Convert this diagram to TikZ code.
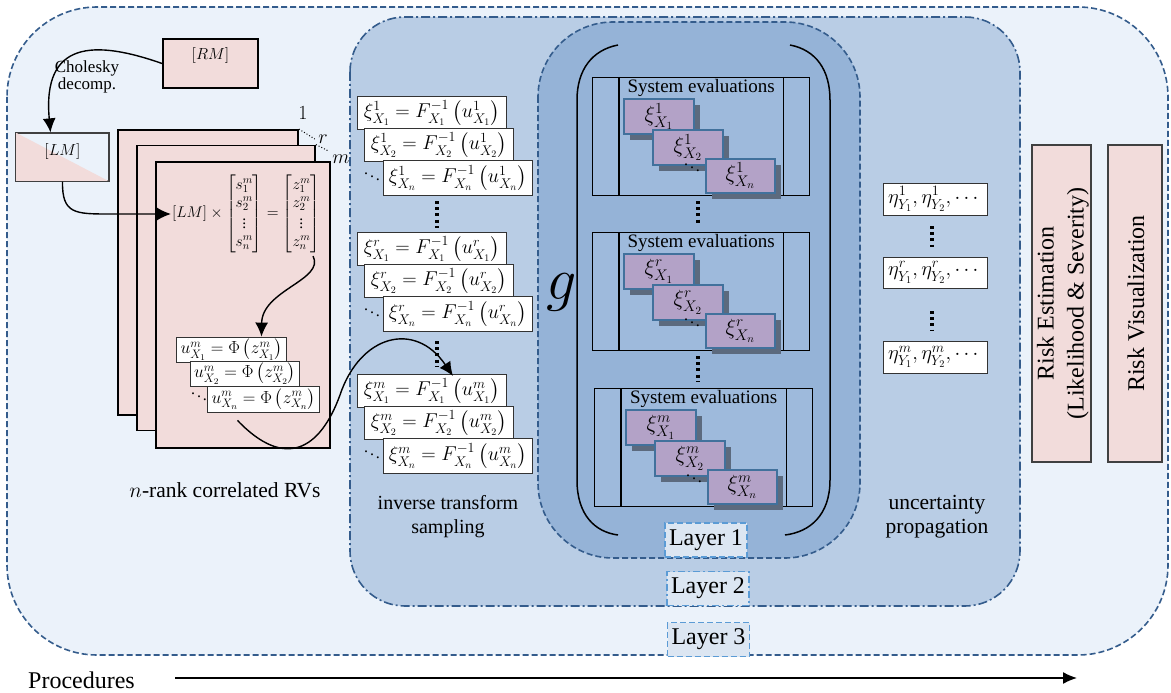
\RequirePackage{fix-cm}
\documentclass[tikz,border=0pt]{standalone}
\usepackage{amsmath}
\usepackage{fontspec}
\setmainfont{Liberation Serif}
\usetikzlibrary{arrows.meta,shadows}

\definecolor{outerfill}{RGB}{235,242,250}
\definecolor{layerdraw}{RGB}{52,92,140}
\definecolor{ltwofill}{RGB}{185,205,229}
\definecolor{lonefill}{RGB}{149,179,215}
\definecolor{pinkfill}{RGB}{242,220,219}
\definecolor{purplefill}{RGB}{179,162,199}
\definecolor{purpledraw}{RGB}{65,113,156}
\definecolor{shadowgray}{RGB}{92,106,126}
\definecolor{labelfill}{RGB}{220,230,242}
\definecolor{labeldraw}{RGB}{91,155,213}
\definecolor{sefill}{RGB}{158,186,220}

\newcommand{\fontlbl}{\fontsize{20}{24}\selectfont}
\newcommand{\fontsys}{\fontsize{19}{23}\selectfont}
\newcommand{\fontmth}{\fontsize{20}{23}\selectfont}
\newcommand{\fontsub}{\fontsize{22}{24}\selectfont}
\newcommand{\fontsml}{\fontsize{16}{19}\selectfont}
\newcommand{\fontrsk}{\fontsize{24}{30}\selectfont}
\newcommand{\fontlay}{\fontsize{24}{28}\selectfont}

\tikzset{
  arr/.style={line width=1.4pt, -{Latex[length=14pt,width=13pt]}},
  pinkbox/.style={draw=black, line width=1.8pt, fill=pinkfill, inner sep=0pt},
  whitebox/.style={draw=black!80, line width=0.9pt, fill=white, inner sep=0pt},
  subbox/.style={draw=purpledraw, line width=1.6pt, fill=purplefill, minimum width=70pt,
    minimum height=35pt, inner sep=0pt, font=\fontsub,
    drop shadow={shadow xshift=6pt, shadow yshift=-6pt, fill=shadowgray, opacity=1}},
  sebox/.style={draw=black, line width=1.3pt, fill=sefill, minimum height=118pt, inner sep=0pt},
  layerlabel/.style={draw=labeldraw, line width=1.6pt, fill=labelfill,
    minimum width=82pt, minimum height=34pt, font=\fontlay, inner sep=0pt},
  vdotline/.style={line width=3.5pt, dash pattern=on 3pt off 3.2pt},
  layerline/.style={draw=layerdraw, line width=1.6pt},
}

\begin{document}
\begin{tikzpicture}[x=1pt,y=-1pt]
\useasboundingbox (0,0) rectangle (1171,693);

% ---------- layers ----------
\draw[layerline, dash pattern=on 6pt off 3pt, fill=outerfill, rounded corners=90pt]
  (7,7) rectangle (1168,655);
\draw[layerline, dash pattern=on 9pt off 3pt on 2pt off 3pt, fill=ltwofill, rounded corners=55pt]
  (350,17) rectangle (1020,606);
\draw[layerline, dash pattern=on 6pt off 3pt, fill=lonefill, rounded corners=75pt]
  (538,22) rectangle (860,558);

\node[layerlabel, dash pattern=on 6pt off 3pt] (lab1) at (706,540) {Layer 1};
\node[layerlabel, dash pattern=on 7pt off 3pt on 2pt off 3pt] (lab2) at (708,588.5) {Layer 2};
\node[layerlabel, dash pattern=on 6pt off 3pt] (lab3) at (708.5,639.5) {Layer 3};

% ---------- procedures arrow ----------
\node[font=\fontsize{24}{28}\selectfont] (proc) at (81.5,680) {Procedures};
\coordinate (procstart) at (175,678);
\coordinate (procend) at (1077,678);
\draw[line width=1.4pt, -{Latex[length=14pt,width=12pt]}] (procstart) -- (procend);

% ---------- left: correlation ----------
\node[pinkbox, minimum width=95pt, minimum height=49pt] (rm) at (210.5,63.5) {};
\node[font=\fontsml] (rmtext) at (210.5,56) {$[RM]$};

\node[draw=black!75, line width=1.2pt, minimum width=93pt, minimum height=48pt, inner sep=0pt] (lm) at (62.5,157) {};
\fill[pinkfill] (lm.north west) -- (lm.south east) -- (lm.south west) -- cycle;
\draw[black!75, line width=1.2pt] (lm.north west) rectangle (lm.south east);
\node[font=\fontsml] (lmtext) at (62.5,151) {$[LM]$};

\draw[arr] (rm.west) .. controls (95,40) and (42,40) .. ([xshift=-12pt]lm.north);
\node[font=\fontsize{17}{19}\selectfont, align=center] (chol) at (87,77) {Cholesky\\[-2pt]decomp.};

\node[pinkbox, minimum width=180pt, minimum height=285pt] (p1) at (208,272.5) {};
\node[pinkbox, minimum width=178pt, minimum height=285pt] (p2) at (226,288) {};
\node[pinkbox, minimum width=174pt, minimum height=286pt] (p3) at (243,305) {};

\node[font=\fontlbl] (nm1) at (303,113) {$1$};
\node[font=\fontlbl] (nmr) at (323,139) {$r$};
\node[font=\fontlbl] (nmm) at (341,159) {$m$};
\draw[dotted, line width=1pt] (p1.north east) -- (nmr.west);
\draw[dotted, line width=1pt] (p2.north east) -- (nmm.north west);

\node[font=\fontsize{15.5}{18}\selectfont, inner sep=1pt] (mat) at (246,214)
  {$[LM]\times\begin{bmatrix}s^m_1\\ s^m_2\\ \vdots\\ s^m_n\end{bmatrix}
   = \begin{bmatrix}z^m_1\\ z^m_2\\ \vdots\\ z^m_n\end{bmatrix}$};

\draw[arr] (lm.south) .. controls (62,214) and (75,214) .. (110,214) -- (mat.west);

\node[whitebox, minimum width=110pt, minimum height=25pt, font=\fontsize{17.5}{20}\selectfont] (u1) at (231.5,349.5)
  {$u^m_{X_1} = \Phi\left(z^m_{X_1}\right)$};
\node[whitebox, minimum width=109pt, minimum height=25pt, font=\fontsize{17.5}{20}\selectfont] (u2) at (245,373.5)
  {$u^m_{X_2} = \Phi\left(z^m_{X_2}\right)$};
\node[whitebox, minimum width=112pt, minimum height=26pt, font=\fontsize{17.5}{20}\selectfont] (un) at (263.5,399)
  {$u^m_{X_n} = \Phi\left(z^m_{X_n}\right)$};
\node[font=\fontsml] (udots) at (199,394) {$\ddots$};

\draw[arr] ([xshift=-8pt,yshift=-2pt]mat.south east) .. controls (325,280) and (262,290) .. ([xshift=30pt]u1.north);

\node[font=\fontsize{21.5}{25}\selectfont] (rvlabel) at (225,490) {$n$-rank correlated RVs};

% ---------- inverse transform column ----------
\foreach \g/\yo/\up in {1/96/1, 2/232/r, 3/374/m} {
  \node[whitebox, anchor=north west, minimum width=149pt, minimum height=33pt, font=\fontmth]
    (xa\g) at (357,\yo) {$\xi^{\up}_{X_1} = F^{-1}_{X_1}\left(u^{\up}_{X_1}\right)$};
  \node[whitebox, anchor=north west, minimum width=149pt, minimum height=33pt, font=\fontmth]
    (xb\g) at (364,{\yo+32}) {$\xi^{\up}_{X_2} = F^{-1}_{X_2}\left(u^{\up}_{X_2}\right)$};
  \node[whitebox, anchor=north west, minimum width=149pt, minimum height=35pt, font=\fontmth]
    (xn\g) at (383,{\yo+64}) {$\xi^{\up}_{X_n} = F^{-1}_{X_n}\left(u^{\up}_{X_n}\right)$};
  \node[font=\fontsml] (xd\g) at (372,{\yo+78}) {$\ddots$};
}
\draw[vdotline] (437,201) -- (437,228);
\draw[vdotline] (437,341) -- (437,366);

\draw[arr] ([xshift=-26pt,yshift=-8pt]un.south) .. controls (285,470) and (320,450) .. (340,395)
  .. controls (360,335) and (415,320) .. ([xshift=21pt,yshift=-2pt]xa3.north);

\node[font=\fontlbl, align=center] (itslabel) at (448,517) {inverse transform\\sampling};

% ---------- layer 1 : system evaluations ----------
\draw[line width=1.5pt] (618,45) .. controls (592,50) and (577,70) .. (577,100) -- (577,480)
  .. controls (577,515) and (595,532) .. (618,535);
\draw[line width=1.5pt] (790,45) .. controls (816,50) and (830,70) .. (830,100) -- (830,480)
  .. controls (830,515) and (810,532) .. (785,535);
\node[font=\fontsize{60}{60}\selectfont] (gfun) at (562,292) {$g$};

\foreach \i/\xo/\yo/\w/\up in {1/592/77/217/1, 2/592/232/217/r, 3/594/388/218/m} {
  \node[sebox, anchor=north west, minimum width=\w pt] (se\i) at (\xo,\yo) {};
  \draw[line width=1.3pt] ([xshift=27pt]se\i.north west) -- ([xshift=27pt]se\i.south west);
  \draw[line width=1.3pt] ([xshift=-27pt]se\i.north east) -- ([xshift=-27pt]se\i.south east);
  \node[font=\fontsys] (st\i) at ([yshift=-11pt]se\i.north) {System evaluations};
  \node[subbox, anchor=north west] (sa\i) at ([xshift=31pt,yshift=-21pt]se\i.north west) {$\xi^{\up}_{X_1}$};
  \node[subbox, anchor=north west] (sb\i) at ([xshift=60pt,yshift=-52pt]se\i.north west) {$\xi^{\up}_{X_2}$};
  \node[font=\fontsml] (sd\i) at ([xshift=100pt,yshift=-88pt]se\i.north west) {$\ddots$};
  \node[subbox, anchor=north west, minimum width=69pt, minimum height=34pt] (sn\i) at ([xshift=113pt,yshift=-81pt]se\i.north west) {$\xi^{\up}_{X_n}$};
}
\draw[vdotline] (698,201) -- (698,225);
\draw[vdotline] (698,356) -- (698,382);

% ---------- uncertainty propagation ----------
\node[whitebox, minimum width=104pt, minimum height=32pt, font=\fontsize{20.5}{24}\selectfont] (eta1) at (935,199)
  {$\eta^1_{Y_1},\eta^1_{Y_2},\cdots$};
\node[whitebox, minimum width=104pt, minimum height=31pt, font=\fontsize{20.5}{24}\selectfont] (eta2) at (935,272.5)
  {$\eta^r_{Y_1},\eta^r_{Y_2},\cdots$};
\node[whitebox, minimum width=104pt, minimum height=32pt, font=\fontsize{20.5}{24}\selectfont] (eta3) at (935,357)
  {$\eta^m_{Y_1},\eta^m_{Y_2},\cdots$};
\draw[vdotline] (932,226) -- (932,247);
\draw[vdotline] (932,311) -- (932,330);

\node[font=\fontsize{21.5}{24}\selectfont, align=center] (uplabel) at (937,517) {uncertainty\\propagation};

% ---------- risk ----------
\node[draw=black!75, line width=1.2pt, fill=pinkfill, minimum width=59pt, minimum height=317pt] (re) at (1061.5,303.5) {};
\node[font=\fontrsk, rotate=90, align=center] (retext) at (1063,303.5) {Risk Estimation\\(Likelihood \& Severity)};
\node[draw=black!75, line width=1.2pt, fill=pinkfill, minimum width=54pt, minimum height=317pt] (rv) at (1135,303.5) {};
\node[font=\fontrsk, rotate=90] (rvtext) at (1136,303.5) {Risk Visualization};

\end{tikzpicture}
\end{document}
